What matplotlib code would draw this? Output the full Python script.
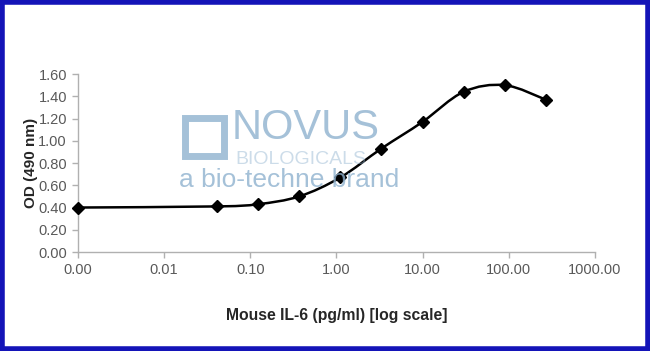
import matplotlib
matplotlib.use("Agg")
import matplotlib.pyplot as plt
import numpy as np
from matplotlib.path import Path
from matplotlib.patches import PathPatch, Rectangle

plt.rcParams['font.family'] = ['Liberation Sans', 'DejaVu Sans']

# Mouse IL-6 standard curve (zero standard drawn at the axis minimum)
conc = [0.001, 0.0412, 0.123, 0.370, 1.11, 3.33, 10.0, 30.0, 90.0, 270.0]
od = [0.40, 0.41, 0.43, 0.50, 0.67, 0.93, 1.17, 1.44, 1.50, 1.37]
xticks = [0.001, 0.01, 0.1, 1, 10, 100, 1000]
xticklabels = ['0.00', '0.01', '0.10', '1.00', '10.00', '100.00', '1000.00']
yticks = [0.0, 0.2, 0.4, 0.6, 0.8, 1.0, 1.2, 1.4, 1.6]

fig = plt.figure(figsize=(6.5, 3.51), dpi=100)
ax = fig.add_axes([0.12, 0.282, 0.795, 0.507])
ax.set_xscale('log')
ax.set_xlim(0.001, 1000)
ax.set_ylim(0, 1.6)

# Excel-like smoothed line: cubic bezier segments built in log-x space
lx = np.log10(conc)
y = np.array(od)
n = len(lx)
verts = [(conc[0], od[0])]
codes = [Path.MOVETO]
t = 1.0 / 6.0
for i in range(n - 1):
    x0, y0 = lx[max(i - 1, 0)], y[max(i - 1, 0)]
    x1, y1 = lx[i], y[i]
    x2, y2 = lx[i + 1], y[i + 1]
    x3, y3 = lx[min(i + 2, n - 1)], y[min(i + 2, n - 1)]
    c1 = (x1 + (x2 - x0) * t, y1 + (y2 - y0) * t)
    c2 = (x2 - (x3 - x1) * t, y2 - (y3 - y1) * t)
    verts += [(10 ** c1[0], c1[1]), (10 ** c2[0], c2[1]), (10 ** x2, y2)]
    codes += [Path.CURVE4] * 3
ax.add_patch(PathPatch(Path(verts, codes), facecolor='none',
                       edgecolor='black', lw=1.8, zorder=3))
ax.plot(conc, od, linestyle='none', marker='D', ms=6, color='black', zorder=4,
        clip_on=False)

ax.set_xticks(xticks)
ax.set_xticklabels(xticklabels)
ax.xaxis.set_minor_locator(matplotlib.ticker.NullLocator())
ax.set_yticks(yticks)
ax.set_yticklabels(['%.2f' % v for v in yticks])
for s in ['top', 'right']:
    ax.spines[s].set_visible(False)
for s in ['left', 'bottom']:
    ax.spines[s].set_color('#b0b0b0')
    ax.spines[s].set_linewidth(1.0)
ax.tick_params(direction='out', length=4, width=1, color='#b0b0b0',
               labelsize=10.5, labelcolor='#595959', pad=4)

ax.set_xlabel('Mouse IL-6 (pg/ml) [log scale]', fontsize=11.3, fontweight='bold',
              color='#262626', labelpad=22)
ax.set_ylabel('OD (490 nm)', fontsize=11, fontweight='bold', color='#262626',
              labelpad=0)

# watermark
wm = '#8fb2cf'
fig.text(0.356, 0.603, 'NOVUS', fontsize=30, color=wm, alpha=0.8, va='baseline')
fig.text(0.362, 0.533, 'BIOLOGICALS', fontsize=14, color=wm, alpha=0.45,
         va='baseline')
fig.text(0.276, 0.468, 'a bio-techne brand', fontsize=19, color=wm, alpha=0.8,
         va='baseline')
fig.patches.append(Rectangle((0.285, 0.555), 0.06, 0.11, transform=fig.transFigure,
                             facecolor='none', edgecolor=wm, lw=5, alpha=0.8))

# blue frame
fig.patches.append(Rectangle((0.003, 0.005), 0.994, 0.99, transform=fig.transFigure,
                             facecolor='none', edgecolor='#1414b8', lw=4))

fig.savefig('out.png', dpi=100)
